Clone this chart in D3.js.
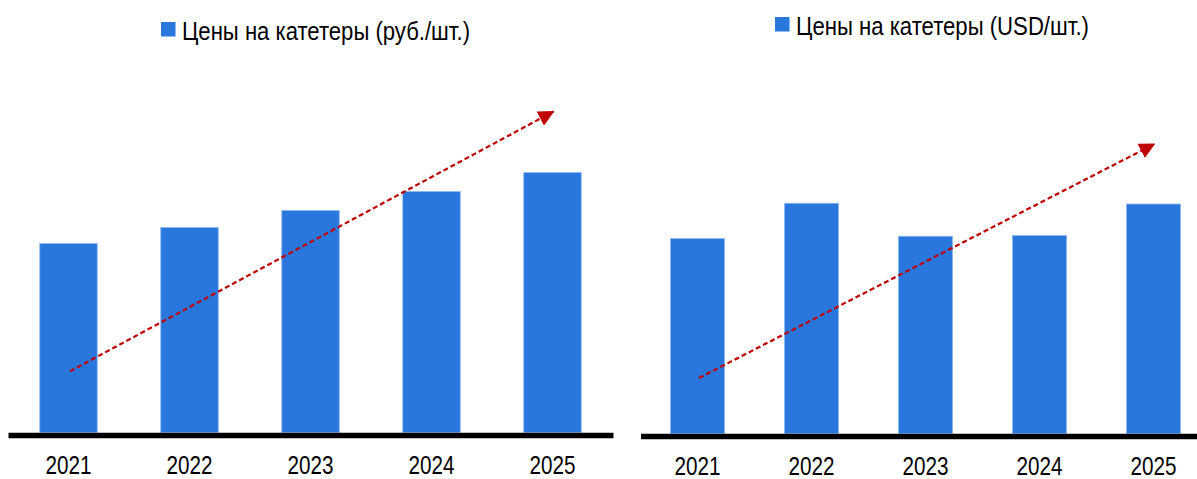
<!DOCTYPE html>
<html lang="ru">
<head>
    <meta charset="UTF-8">
    <title>Цены на катетеры</title>
    <script src="https://cdn.jsdelivr.net/npm/d3@7"></script>
    <style>
        body { margin: 0; background: #fff; }
        svg { display: block; }
        text { font-family: "Liberation Sans Narrow", "Arial Narrow", "Liberation Sans", Arial, sans-serif; fill: #000; }
    </style>
</head>
<body>
    <div id="vis"></div>
    <script>

        var years = ["2021", "2022", "2023", "2024", "2025"];

        // цены в рублях за штуку
        var pricesRub = [945, 1025, 1110, 1205, 1300];
        // цены в долларах за штуку
        var pricesUsd = [13.0, 15.35, 13.15, 13.2, 15.3];

        // линия тренда: значение в начале (2021) и в конце (2025)
        var trendRub = [306, 1605];
        var trendUsd = [3.7, 19.3];

        var legendRub = "Цены на катетеры (руб./шт.)";
        var legendUsd = "Цены на катетеры (USD/шт.)";

        var width = 1197;
        var height = 479;

        var barColor = "#2977dd";
        var arrowColor = "#c00000";

        var svg = d3.select("#vis")
            .append("svg")
            .attr("width", width)
            .attr("height", height);

        svg.append("defs").append("marker")
            .attr("id", "arrowhead")
            .attr("markerUnits", "userSpaceOnUse")
            .attr("viewBox", "0 0 16 16")
            .attr("markerWidth", 16)
            .attr("markerHeight", 16)
            .attr("refX", 15)
            .attr("refY", 8)
            .attr("orient", "auto")
            .append("path")
            .attr("d", "M0,0 L16,8 L0,16 Z")
            .attr("fill", arrowColor);

        // левая и правая панели
        var panels = [
            {
                values: pricesRub, trend: trendRub, legend: legendRub,
                xRange: [8, 613], base: 435, yMax: 1500,
                legendX: 161, legendY: 22, legendW: 288
            },
            {
                values: pricesUsd, trend: trendUsd, legend: legendUsd,
                xRange: [640.5, 1210.5], base: 436, yMax: 20,
                legendX: 775, legendY: 17, legendW: 293
            }
        ];

        panels.forEach(function(p) {
            var g = svg.append("g");
            var barBottom = p.base - 2.5;

            var x_scale = d3.scaleBand()
                .domain(years)
                .range(p.xRange)
                .paddingInner(0.525)
                .paddingOuter(0.2625);

            var y_scale = d3.scaleLinear()
                .domain([0, p.yMax])
                .range([barBottom, barBottom - 300]);

            g.selectAll(".bar")
                .data(p.values)
                .enter()
                .append("rect")
                .attr("class", "bar")
                .attr("x", function(d, i) { return x_scale(years[i]); })
                .attr("y", function(d) { return y_scale(d); })
                .attr("width", x_scale.bandwidth())
                .attr("height", function(d) { return barBottom - y_scale(d); })
                .attr("fill", barColor)
                .attr("stroke", "#8db8f0")
                .attr("stroke-width", 0.8);

            var x_axis = d3.axisBottom(x_scale)
                .tickSize(0)
                .tickPadding(21);

            var axisG = g.append("g")
                .attr("transform", "translate(0," + p.base + ")")
                .call(x_axis);

            axisG.select(".domain")
                .attr("stroke", "#000")
                .attr("stroke-width", 5.5);

            // узкий шрифт: подгоняем ширину подписей
            axisG.selectAll(".tick text")
                .style("font-size", "25.5px")
                .attr("fill", "#000")
                .attr("textLength", 46)
                .attr("lengthAdjust", "spacingAndGlyphs");

            // пунктирная стрелка тренда
            var x0 = x_scale(years[0]) + x_scale.bandwidth() / 2;
            var x1 = x_scale(years[years.length - 1]) + x_scale.bandwidth() / 2;

            g.append("line")
                .attr("x1", x0 + 1.5)
                .attr("y1", y_scale(p.trend[0]))
                .attr("x2", x1 + 1)
                .attr("y2", y_scale(p.trend[1]))
                .attr("stroke", arrowColor)
                .attr("stroke-width", 2.2)
                .attr("stroke-dasharray", "5,3")
                .attr("marker-end", "url(#arrowhead)");

            // легенда
            g.append("rect")
                .attr("x", p.legendX)
                .attr("y", p.legendY)
                .attr("width", 14.5)
                .attr("height", 14.5)
                .attr("fill", barColor);

            g.append("text")
                .attr("x", p.legendX + 21)
                .attr("y", p.legendY + 18)
                .attr("textLength", p.legendW)
                .attr("lengthAdjust", "spacingAndGlyphs")
                .style("font-size", "26px")
                .text(p.legend);
        });

    </script>
</body>
</html>
